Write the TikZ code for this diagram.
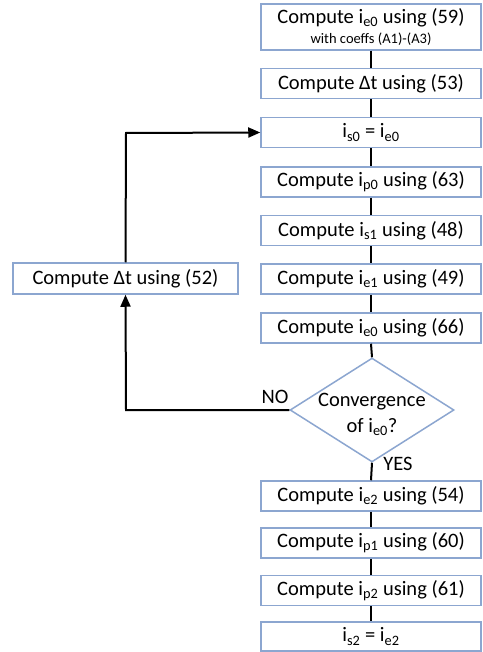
\documentclass[tikz,border=0pt]{standalone}
\usepackage{fontspec}
\setmainfont{Carlito}
\usetikzlibrary{arrows.meta,shapes.geometric}
\definecolor{boxblue}{RGB}{140,166,208}
\newcommand{\lowsub}[1]{\textsubscript{#1}}
\begin{document}
\begin{tikzpicture}[x=1pt,y=-1pt,
  font=\fontsize{20.5}{24}\selectfont,
  stepbox/.style={draw=boxblue,line width=1.5pt,fill=white,minimum width=220pt,minimum height=30pt,inner sep=0pt,anchor=center},
  conn/.style={line width=2pt,black},
  arr/.style={conn,-{Triangle[length=12pt,width=10pt]}}]
\useasboundingbox (0,0) rectangle (482,652);
\node[stepbox,minimum height=46pt,align=center] (b1) at (371,27) {Compute i\lowsub{e0} using (59)\\[-4pt]{\fontsize{14.5}{16}\selectfont with coeffs (A1)-(A3)}};
\node[stepbox] (b2) at (371,83.5) {Compute Δt using (53)};
\node[stepbox] (b3) at (371,132.5) {i\lowsub{s0} = i\lowsub{e0}};
\node[stepbox] (b4) at (371,182) {Compute i\lowsub{p0} using (63)};
\node[stepbox] (b5) at (371,230.5) {Compute i\lowsub{s1} using (48)};
\node[stepbox] (b6) at (371,279) {Compute i\lowsub{e1} using (49)};
\node[stepbox] (b7) at (371,328) {Compute i\lowsub{e0} using (66)};
\node[diamond,draw=boxblue,line width=1.5pt,fill=white,minimum width=164pt,minimum height=104pt,inner sep=0pt] (dec) at (372,410) {};
\node[align=center,inner sep=0pt] (dect) at (372,414) {Convergence\\[2pt]of i\lowsub{e0}?};
\node[stepbox] (b8) at (371,496) {Compute i\lowsub{e2} using (54)};
\node[stepbox] (b9) at (371,543) {Compute i\lowsub{p1} using (60)};
\node[stepbox] (b10) at (371,590.5) {Compute i\lowsub{p2} using (61)};
\node[stepbox,minimum height=29pt] (b11) at (371,636.5) {i\lowsub{s2} = i\lowsub{e2}};
\node[stepbox,minimum width=225pt,minimum height=31pt] (lb) at (125.5,278.5) {Compute Δt using (52)};
\coordinate (c1) at (126,410);
\coordinate (c2) at (126,133);
\foreach \a/\b in {b1/b2,b2/b3,b3/b4,b4/b5,b5/b6,b6/b7,b7/dec,dec/b8,b8/b9,b9/b10,b10/b11}
  \draw[conn] (\a.south) -- (\b.north);
\draw[arr] (dec.west) -- (c1) -- (lb.south);
\draw[arr] (lb.north) -- (c2) -- (b3.west);
\node[inner sep=0pt] (no) at (275,397) {NO};
\node[inner sep=0pt] (yes) at (398,464) {YES};
\end{tikzpicture}
\end{document}
